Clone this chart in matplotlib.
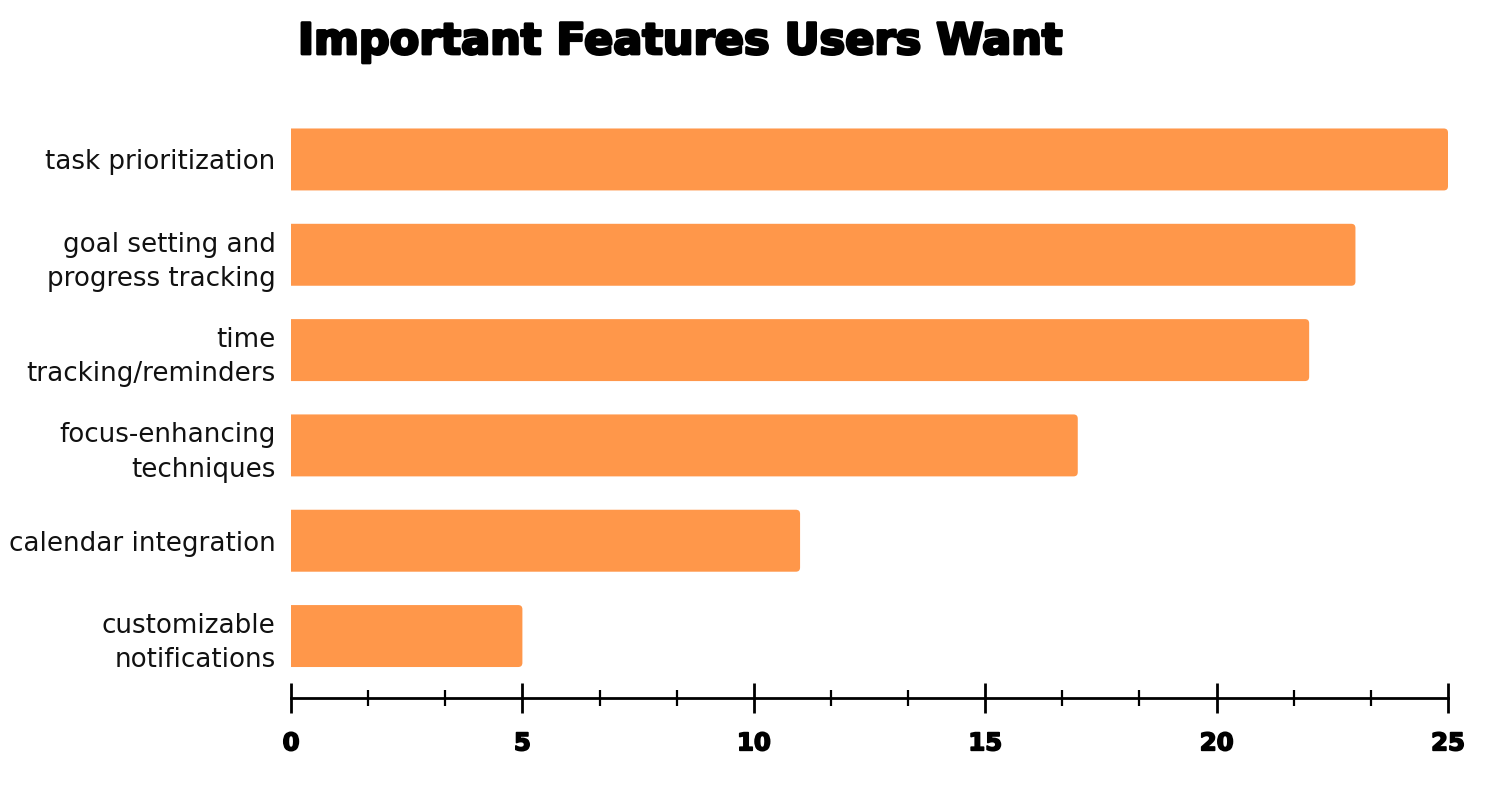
import matplotlib
matplotlib.use("Agg")
import matplotlib.pyplot as plt
import matplotlib.patheffects as pe
from matplotlib.ticker import MultipleLocator
from matplotlib.patches import FancyBboxPatch

categories = [
    "customizable\nnotifications",
    "calendar integration",
    "focus-enhancing\ntechniques",
    "time\ntracking/reminders",
    "goal setting and\nprogress tracking",
    "task prioritization",
]
values = [5, 11, 17, 22, 23, 25]
xticks = [0, 5, 10, 15, 20, 25]
title = "Important Features Users Want"
bar_color = "#FF974A"

fig = plt.figure(figsize=(15.03, 8.07), dpi=100)
ax = fig.add_axes([291/1503, 1 - 698/807, (1448-291)/1503, (698-97.5)/807])

ypos = list(range(len(categories)))
bars = ax.barh(ypos, values, height=0.65, color=bar_color, edgecolor="none")
ax.set_xlim(0, 25)
ax.set_ylim(-0.65, 5.65)

# rounded right-hand ends; the left end is tucked behind the axis and clipped
aspect = (95.3 / 46.3)
for b in bars:
    x, y, w, h = b.get_x(), b.get_y(), b.get_width(), b.get_height()
    b.set_visible(False)
    p = FancyBboxPatch((x - 0.5, y), w + 0.5, h,
                       boxstyle="round,pad=0,rounding_size=0.09",
                       mutation_aspect=1/aspect,
                       facecolor=bar_color, edgecolor="none", clip_on=True)
    ax.add_patch(p)

ax.set_yticks(ypos)
ax.set_yticklabels(categories, fontsize=18.8, family="DejaVu Sans", color="#111111",
                   linespacing=1.42)
ax.tick_params(axis="y", length=0, pad=11)

heavy = [pe.withStroke(linewidth=1.2, foreground="black")]
ax.set_xticks(xticks)
ax.set_xticklabels([str(t) for t in xticks], fontsize=17.5, fontweight="bold",
                   family="DejaVu Sans")
for t in ax.get_xticklabels():
    t.set_path_effects(heavy)
ax.xaxis.set_minor_locator(MultipleLocator(5/3))
ax.tick_params(axis="x", which="major", direction="inout", length=22, width=2,
               pad=13, color="black")
ax.tick_params(axis="x", which="minor", direction="inout", length=12, width=1.6,
               color="black")

for s in ["top", "right", "left"]:
    ax.spines[s].set_visible(False)
ax.spines["bottom"].set_linewidth(2)
ax.spines["bottom"].set_color("black")

fig.text(298/1503, 1 - 42/807, title, fontsize=31, fontweight="bold",
         family="DejaVu Sans", ha="left", va="center",
         path_effects=[pe.withStroke(linewidth=2, foreground="black")])

fig.savefig("out.png", dpi=100)
